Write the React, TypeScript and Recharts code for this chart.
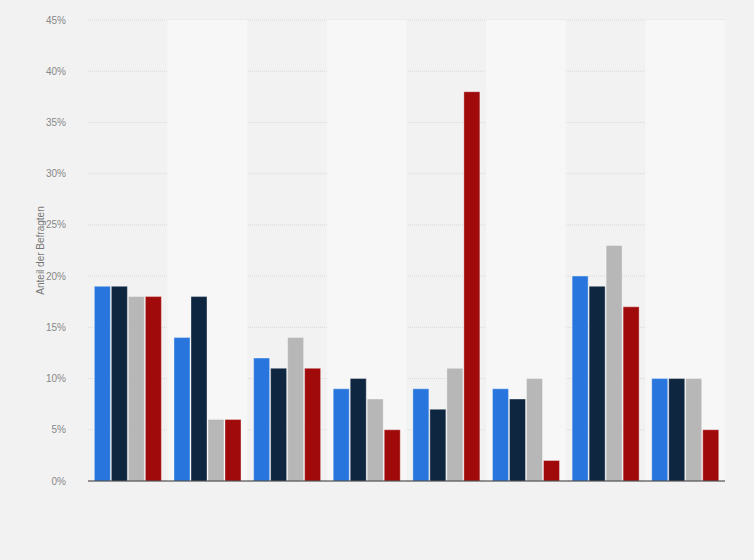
import React from "react";
import { BarChart, Bar, XAxis, YAxis, CartesianGrid, ReferenceArea } from "recharts";

const categories = ["1", "2", "3", "4", "5", "6", "7", "8"];
const series1 = [19, 14, 12, 9, 9, 9, 20, 10];
const series2 = [19, 18, 11, 10, 7, 8, 19, 10];
const series3 = [18, 6, 14, 8, 11, 10, 23, 10];
const series4 = [18, 6, 11, 5, 38, 2, 17, 5];
const yTicks = [0, 5, 10, 15, 20, 25, 30, 35, 40, 45];

const seriesNames = ["Serie 1", "Serie 2", "Serie 3", "Serie 4"];
const seriesColors = ["#2876dd", "#0f2640", "#b7b7b7", "#a10a0a"];

const data = categories.map((c, i) => ({
  name: c,
  s1: series1[i],
  s2: series2[i],
  s3: series3[i],
  s4: series4[i],
}));

const YLabel = (props: any) => {
  const vb = props.viewBox || {};
  const x = vb.x + 40;
  const y = vb.y + vb.height / 2;
  return (
    <text
      x={x}
      y={y}
      transform={`rotate(-90, ${x}, ${y})`}
      textAnchor="middle"
      dominantBaseline="central"
      fill="#777"
      fontSize={10}
      fontFamily="'Liberation Sans', Arial, sans-serif"
    >
      Anteil der Befragten
    </text>
  );
};

export default function App() {
  return (
    <div
      style={{
        position: "absolute",
        left: 0,
        top: 0,
        width: 754,
        height: 560,
        background: "#f2f2f2",
      }}
    >
      <BarChart
        width={754}
        height={560}
        data={data}
        margin={{ top: 20, right: 29, bottom: 78, left: 0 }}
        barCategoryGap="8%"
        barGap={1}
      >
        {categories.map((c, i) =>
          i % 2 === 1 ? (
            <ReferenceArea
              key={c}
              x1={c}
              x2={c}
              y1={0}
              y2={45}
              fill="#f7f7f7"
              fillOpacity={1}
              stroke="none"
              ifOverflow="extendDomain"
            />
          ) : null
        )}
        <CartesianGrid
          vertical={false}
          stroke="#d9d9d9"
          strokeDasharray="1 1"
        />
        <XAxis
          dataKey="name"
          tick={false}
          tickLine={false}
          axisLine={{ stroke: "#333", strokeWidth: 1 }}
          height={1}
        />
        <YAxis
          width={88}
          domain={[0, 45]}
          ticks={yTicks}
          tickFormatter={(v: number) => `${v}%`}
          axisLine={false}
          tickLine={false}
          tickMargin={16}
          interval={0}
          tick={{
            fill: "#888",
            fontSize: 10,
            fontFamily: "'Liberation Sans', Arial, sans-serif",
          }}
          label={<YLabel />}
        />
        {["s1", "s2", "s3", "s4"].map((k, i) => (
          <Bar
            key={k}
            dataKey={k}
            name={seriesNames[i]}
            fill={seriesColors[i]}
            stroke="#ffffff"
            strokeOpacity={0.35}
            strokeWidth={1}
            isAnimationActive={false}
          />
        ))}
      </BarChart>
    </div>
  );
}
